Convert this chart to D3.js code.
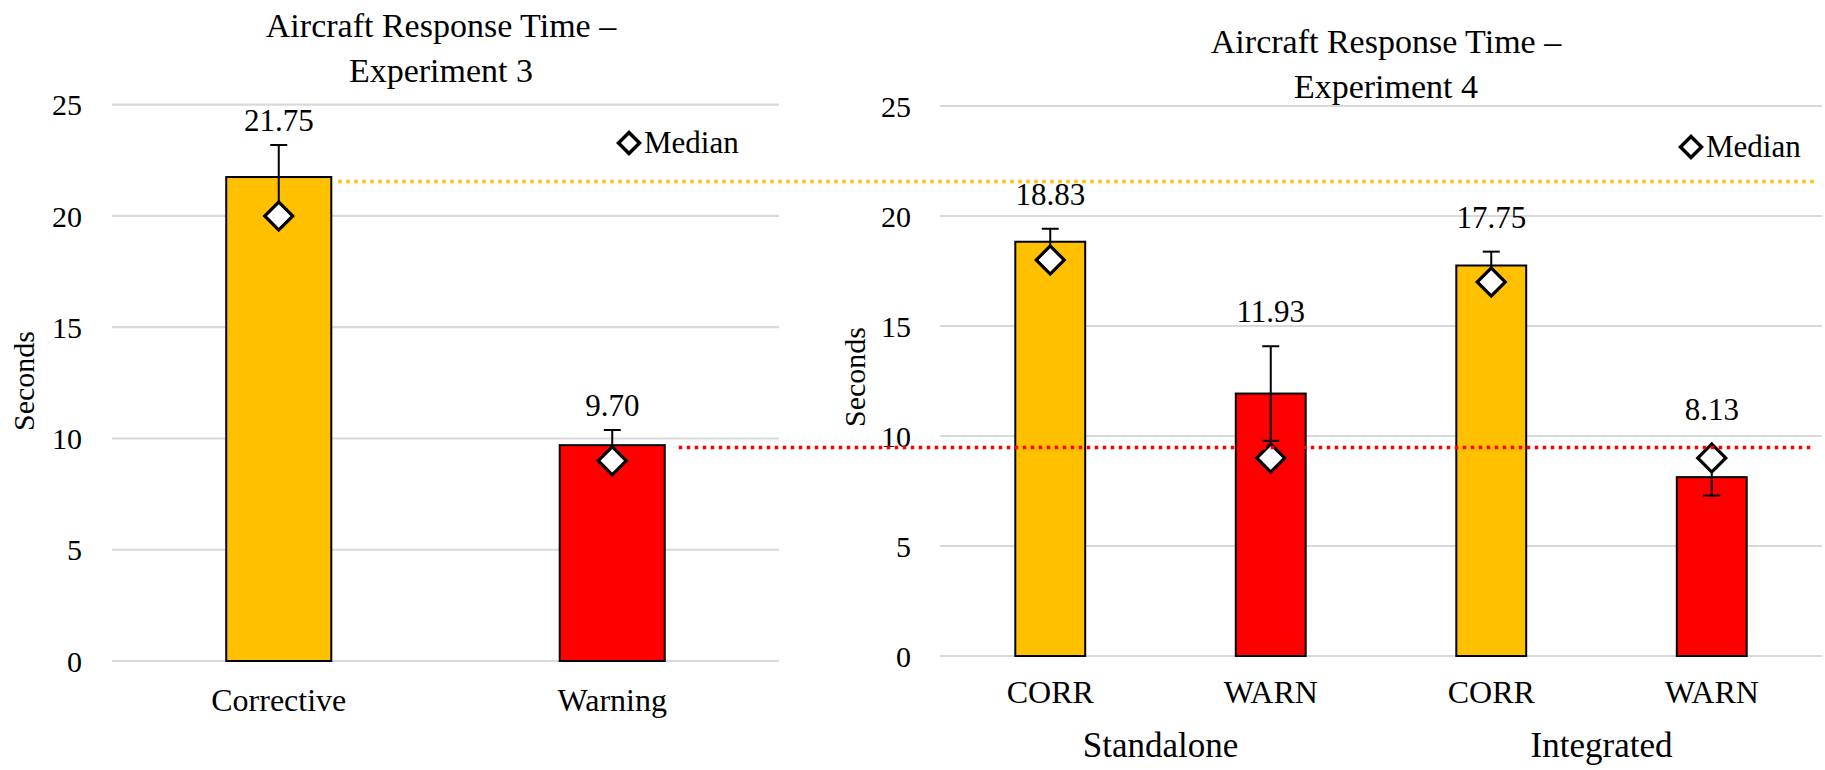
<!DOCTYPE html>
<html>
<head>
<meta charset="utf-8">
<script src="https://cdn.jsdelivr.net/npm/d3@7"></script>
<style>
  html, body { margin: 0; padding: 0; background: #ffffff; }
  svg { display: block; }
  svg text { font-family: "Liberation Serif", "Times New Roman", serif; fill: #000; }
</style>
</head>
<body>
<svg id="chart" width="1825" height="770"></svg>
<script>
// ---------------- data ----------------
const exp3Title = ["Aircraft Response Time \u2013", "Experiment 3"];
const exp3Categories = ["Corrective", "Warning"];
const exp3Types = ["corr", "warn"];
const exp3Means = [21.75, 9.70];
const exp3Errors = [1.44, 0.68];
const exp3Medians = [20.0, 9.0];

const exp4Title = ["Aircraft Response Time \u2013", "Experiment 4"];
const exp4Categories = ["CORR", "WARN", "CORR", "WARN"];
const exp4Types = ["corr", "warn", "corr", "warn"];
const exp4Groups = ["Standalone", "Integrated"];
const exp4Means = [18.83, 11.93, 17.75, 8.13];
const exp4Errors = [0.59, 2.15, 0.63, 0.84];
const exp4Medians = [18.0, 9.0, 17.0, 9.0];

const yTicks = [0, 5, 10, 15, 20, 25];
const yDomain = [0, 25];
const axisTitle = "Seconds";
const legendLabel = "Median";
const refLineValues = [21.55, 9.59];   // dotted reference lines (left chart scale)
const refLineTypes = ["corr", "warn"];

// ---------------- styles ----------------
const FONT = '"Liberation Serif", "Times New Roman", serif';
const colors = { corr: "#FFC000", warn: "#FF0000" };
const gridColor = "#D9D9D9";
const svg = d3.select("#chart").attr("font-family", FONT);

function diamond(size) {
  const side = size / Math.SQRT2;
  return d3.symbol().type(d3.symbolSquare).size(side * side)();
}

function drawChart(cfg) {
  const g = svg.append("g");
  const ids = cfg.categories.map((c, i) => i);
  const x = d3.scaleBand().domain(ids).range(cfg.xRange)
    .paddingInner(cfg.pad).paddingOuter(cfg.pad / 2);
  const y = d3.scaleLinear().domain(yDomain).range(cfg.yRange);

  g.append("g").selectAll("line").data(yTicks).join("line")
    .attr("x1", cfg.xRange[0]).attr("x2", cfg.xRange[1])
    .attr("y1", d => y(d)).attr("y2", d => y(d))
    .attr("stroke", gridColor).attr("stroke-width", 2.2);

  const yAxis = d3.axisLeft(y).tickValues(yTicks).tickSize(0).tickPadding(0).tickFormat(d3.format("d"));
  const ax = g.append("g").attr("transform", `translate(${cfg.tickX},0)`).call(yAxis)
    .attr("font-family", FONT).attr("font-size", 30);
  ax.select(".domain").remove();
  ax.selectAll("text").attr("font-size", 30).attr("fill", "#000")
    .attr("font-family", FONT).attr("dy", "0.34em");

  g.append("text").attr("transform", `translate(${cfg.axisTitleX},${cfg.axisTitleY}) rotate(-90)`)
    .attr("text-anchor", "middle").attr("dy", "0.35em")
    .attr("font-size", 30).text(axisTitle);

  g.append("g").selectAll("rect").data(ids).join("rect")
    .attr("x", i => x(i)).attr("width", x.bandwidth())
    .attr("y", i => y(cfg.means[i])).attr("height", i => y(0) - y(cfg.means[i]))
    .attr("fill", i => colors[cfg.types[i]])
    .attr("stroke", "#000").attr("stroke-width", 2);

  g.append("g").selectAll("text").data(ids).join("text")
    .attr("x", i => x(i) + x.bandwidth() / 2).attr("y", cfg.catY)
    .attr("text-anchor", "middle").attr("font-size", 32)
    .text(i => cfg.categories[i]);

  g.append("g").selectAll("text").data(cfg.title).join("text")
    .attr("x", cfg.titleX).attr("y", (d, k) => cfg.titleY + k * 45)
    .attr("text-anchor", "middle").attr("font-size", 34).text(d => d);

  return { g, x, y, ids };
}

function drawOverlays(ch, cfg) {
  const { g, x, y, ids } = ch;
  const cx = i => x(i) + x.bandwidth() / 2;
  const eb = g.append("g").attr("stroke", "#000").attr("stroke-width", 2);
  ids.forEach(i => {
    const lo = y(cfg.means[i] - cfg.errors[i]);
    const hi = y(cfg.means[i] + cfg.errors[i]);
    eb.append("line").attr("x1", cx(i)).attr("x2", cx(i)).attr("y1", lo).attr("y2", hi);
    [lo, hi].forEach(v => eb.append("line")
      .attr("x1", cx(i) - 8.5).attr("x2", cx(i) + 8.5).attr("y1", v).attr("y2", v));
  });
  g.append("g").selectAll("path").data(ids).join("path")
    .attr("d", diamond(28))
    .attr("transform", i => `translate(${cx(i)},${y(cfg.medians[i])}) rotate(45)`)
    .attr("fill", "#fff").attr("stroke", "#000").attr("stroke-width", 3.2);
  g.append("g").selectAll("text").data(ids).join("text")
    .attr("x", i => cx(i))
    .attr("y", i => Math.min(y(cfg.means[i] + cfg.errors[i]), y(cfg.medians[i]) - 14, y(cfg.means[i])) - cfg.labelGap)
    .attr("text-anchor", "middle").attr("font-size", 31)
    .text(i => cfg.means[i].toFixed(2));
  const lg = g.append("g").attr("transform", `translate(${cfg.legendX},${cfg.legendY})`);
  lg.append("path").attr("d", diamond(21)).attr("transform", "rotate(45)")
    .attr("fill", "#fff").attr("stroke", "#000").attr("stroke-width", 3.5);
  lg.append("text").attr("x", 15).attr("y", 10).attr("font-size", 31).text(legendLabel);
}

const cfg3 = {
  categories: exp3Categories, types: exp3Types, means: exp3Means, errors: exp3Errors,
  medians: exp3Medians, title: exp3Title,
  xRange: [112, 779], yRange: [661, 104.7], pad: 0.685,
  tickX: 82, axisTitleX: 23, axisTitleY: 381, catY: 711,
  titleX: 441, titleY: 37, labelGap: 14, legendX: 629, legendY: 143
};
const cfg4 = {
  categories: exp4Categories, types: exp4Types, means: exp4Means, errors: exp4Errors,
  medians: exp4Medians, title: exp4Title,
  xRange: [940, 1822], yRange: [656, 106], pad: 0.683,
  tickX: 911, axisTitleX: 854, axisTitleY: 377, catY: 703,
  titleX: 1386, titleY: 53, labelGap: 24, legendX: 1691, legendY: 147
};

const ch3 = drawChart(cfg3);
const ch4 = drawChart(cfg4);

const groupCenters = exp4Groups.map((gname, k) =>
  (ch4.x(2 * k) + ch4.x(2 * k + 1) + ch4.x.bandwidth()) / 2);
svg.append("g").selectAll("text").data(exp4Groups).join("text")
  .attr("x", (d, k) => groupCenters[k]).attr("y", 757)
  .attr("text-anchor", "middle").attr("font-size", 35).text(d => d);

const refStartIdx = [0, 1];
svg.append("g").selectAll("line").data(refLineValues).join("line")
  .attr("x1", (d, k) => ch3.x(refStartIdx[k]) + ch3.x.bandwidth() + (k === 0 ? 7 : 14))
  .attr("x2", (d, k) => k === 0 ? 1815 : 1812)
  .attr("y1", d => ch3.y(d)).attr("y2", d => ch3.y(d))
  .attr("stroke", (d, k) => colors[refLineTypes[k]])
  .attr("stroke-width", 3.5).attr("stroke-dasharray", "3.5 4.5");

drawOverlays(ch3, cfg3);
drawOverlays(ch4, cfg4);
</script>
</body>
</html>
